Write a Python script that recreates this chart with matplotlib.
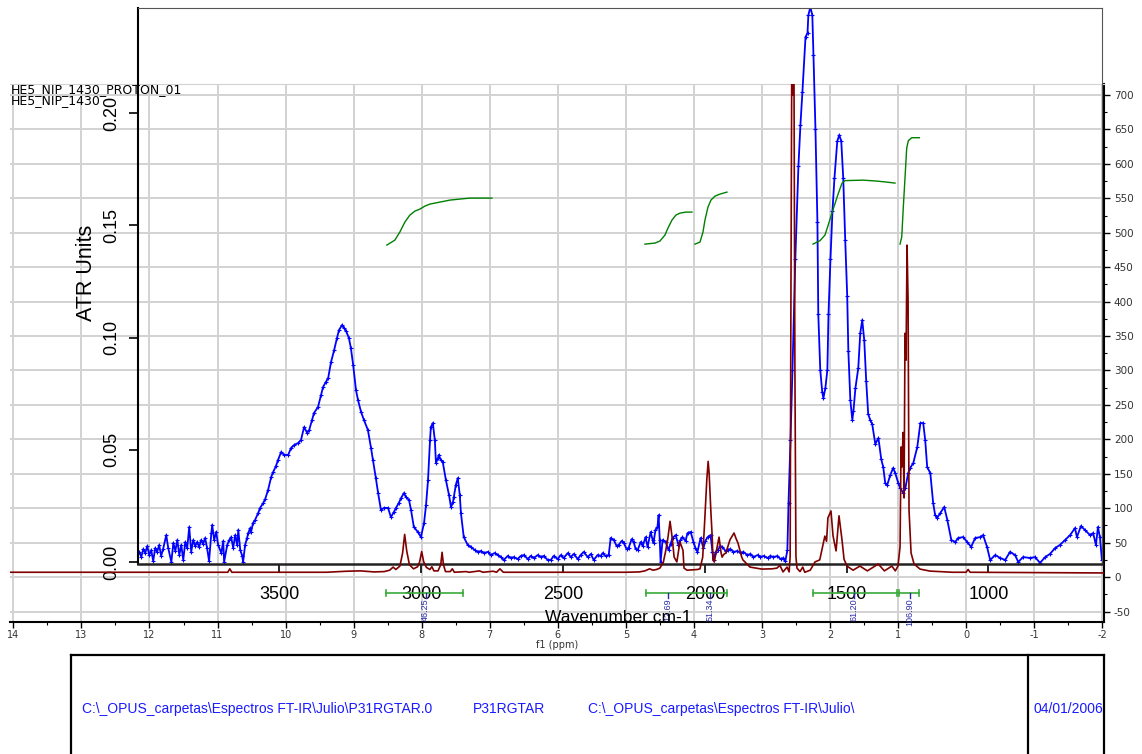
import matplotlib
matplotlib.use("Agg")
import matplotlib.pyplot as plt
from matplotlib.ticker import MultipleLocator, FormatStrFormatter, FuncFormatter
from matplotlib.lines import Line2D

plt.rcParams['axes.unicode_minus'] = False

# ---- FT-IR spectrum (ATR) ----
ir_wavenumber = [
    3994, 3987, 3980, 3973, 3966, 3959, 3952, 3945, 3938, 3931,
    3924, 3917, 3910, 3899, 3892, 3881, 3874, 3867, 3860, 3853,
    3846, 3839, 3832, 3825, 3818, 3811, 3804, 3797, 3790, 3783,
    3776, 3769, 3762, 3755, 3748, 3740, 3737, 3730, 3723, 3716,
    3705, 3698, 3695, 3684, 3677, 3670, 3663, 3656, 3649, 3645,
    3638, 3631, 3628, 3621, 3614, 3610, 3603, 3600, 3593, 3586,
    3575, 3568, 3557, 3550, 3540, 3529, 3522, 3512, 3505, 3494,
    3483, 3469, 3459, 3448, 3434, 3424, 3413, 3402, 3395, 3385,
    3378, 3364, 3353, 3346, 3336, 3328, 3318, 3307, 3297, 3290,
    3279, 3272, 3265, 3255, 3248, 3240, 3230, 3223, 3212, 3202,
    3188, 3177, 3170, 3160, 3152, 3142, 3131, 3117, 3107, 3096,
    3089, 3079, 3071, 3061, 3054, 3043, 3036, 3026, 3012, 3001,
    2990, 2983, 2976, 2969, 2966, 2959, 2952, 2948, 2941, 2938,
    2931, 2924, 2913, 2902, 2895, 2888, 2885, 2878, 2871, 2864,
    2860, 2850, 2836, 2825, 2811, 2800, 2790, 2779, 2765, 2755,
    2741, 2730, 2719, 2709, 2695, 2684, 2674, 2660, 2649, 2638,
    2624, 2614, 2603, 2589, 2579, 2568, 2554, 2543, 2533, 2519,
    2508, 2498, 2483, 2473, 2462, 2448, 2438, 2427, 2413, 2402,
    2392, 2378, 2367, 2360, 2350, 2339, 2332, 2321, 2311, 2304,
    2293, 2286, 2276, 2269, 2258, 2251, 2244, 2237, 2226, 2219,
    2209, 2202, 2191, 2184, 2181, 2174, 2167, 2163, 2159, 2156,
    2149, 2138, 2128, 2121, 2114, 2103, 2093, 2086, 2079, 2068,
    2061, 2050, 2040, 2033, 2026, 2015, 2005, 1998, 1990, 1980,
    1973, 1969, 1962, 1955, 1945, 1938, 1927, 1920, 1910, 1899,
    1885, 1874, 1864, 1850, 1839, 1829, 1814, 1804, 1793, 1779,
    1769, 1758, 1744, 1733, 1723, 1716, 1709, 1705, 1698, 1691,
    1681, 1670, 1663, 1656, 1645, 1638, 1635, 1628, 1621, 1617,
    1610, 1603, 1600, 1593, 1586, 1582, 1575, 1568, 1564, 1557,
    1550, 1543, 1533, 1526, 1519, 1512, 1505, 1498, 1494, 1487,
    1480, 1476, 1469, 1459, 1452, 1445, 1438, 1431, 1424, 1417,
    1410, 1399, 1388, 1378, 1371, 1364, 1357, 1346, 1336, 1329,
    1318, 1311, 1300, 1293, 1283, 1276, 1265, 1251, 1240, 1230,
    1223, 1216, 1205, 1195, 1188, 1181, 1170, 1156, 1145, 1131,
    1117, 1107, 1089, 1075, 1061, 1047, 1029, 1019, 1005, 994,
    976, 959, 941, 924, 906, 895, 878, 853, 836, 818,
    800, 783, 765, 748, 730, 712, 695, 688, 674, 660,
    642, 631, 621, 614, 607, 600,
]
ir_absorbance = [
    0.0045, 0.0022, 0.0058, 0.0040, 0.0071, 0.0031, 0.0053, 0.0004, 0.0062, 0.0045,
    0.0076, 0.0027, 0.0058, 0.0120, 0.0062, 0.0000, 0.0085, 0.0049, 0.0098, 0.0031,
    0.0076, 0.0009, 0.0089, 0.0062, 0.0156, 0.0045, 0.0098, 0.0071, 0.0089, 0.0067,
    0.0098, 0.0080, 0.0107, 0.0062, 0.0004, 0.0129, 0.0165, 0.0098, 0.0134, 0.0076,
    0.0040, 0.0094, 0.0000, 0.0076, 0.0098, 0.0111, 0.0062, 0.0120, 0.0076, 0.0143,
    0.0053, 0.0027, 0.0000, 0.0076, 0.0107, 0.0129, 0.0151, 0.0134, 0.0174, 0.0187,
    0.0218, 0.0241, 0.0263, 0.0281, 0.0321, 0.0379, 0.0401, 0.0428, 0.0454, 0.0490,
    0.0477, 0.0477, 0.0508, 0.0521, 0.0530, 0.0543, 0.0601, 0.0575, 0.0588, 0.0633,
    0.0664, 0.0690, 0.0744, 0.0780, 0.0802, 0.0820, 0.0891, 0.0944, 0.0998, 0.1033,
    0.1056, 0.1042, 0.1029, 0.0998, 0.0953, 0.0878, 0.0766, 0.0722, 0.0668, 0.0633,
    0.0588, 0.0508, 0.0454, 0.0374, 0.0307, 0.0232, 0.0241, 0.0241, 0.0200, 0.0223,
    0.0241, 0.0263, 0.0285, 0.0307, 0.0290, 0.0276, 0.0232, 0.0156, 0.0134, 0.0111,
    0.0174, 0.0254, 0.0365, 0.0543, 0.0601, 0.0619, 0.0543, 0.0441, 0.0463, 0.0477,
    0.0454, 0.0445, 0.0365, 0.0298, 0.0245, 0.0267, 0.0290, 0.0343, 0.0374, 0.0298,
    0.0218, 0.0111, 0.0076, 0.0067, 0.0053, 0.0045, 0.0049, 0.0040, 0.0045, 0.0031,
    0.0040, 0.0031, 0.0022, 0.0009, 0.0027, 0.0018, 0.0022, 0.0013, 0.0027, 0.0031,
    0.0013, 0.0027, 0.0018, 0.0031, 0.0022, 0.0027, 0.0009, 0.0009, 0.0027, 0.0013,
    0.0031, 0.0018, 0.0040, 0.0022, 0.0036, 0.0013, 0.0031, 0.0045, 0.0022, 0.0036,
    0.0009, 0.0031, 0.0027, 0.0040, 0.0027, 0.0031, 0.0107, 0.0098, 0.0071, 0.0076,
    0.0094, 0.0085, 0.0058, 0.0062, 0.0102, 0.0089, 0.0058, 0.0053, 0.0089, 0.0071,
    0.0111, 0.0067, 0.0134, 0.0098, 0.0085, 0.0143, 0.0156, 0.0209, 0.0098, 0.0000,
    0.0098, 0.0089, 0.0053, 0.0080, 0.0107, 0.0120, 0.0076, 0.0098, 0.0111, 0.0094,
    0.0129, 0.0134, 0.0089, 0.0062, 0.0045, 0.0107, 0.0062, 0.0094, 0.0111, 0.0120,
    0.0045, 0.0009, 0.0045, 0.0053, 0.0071, 0.0067, 0.0049, 0.0053, 0.0058, 0.0045,
    0.0049, 0.0040, 0.0045, 0.0031, 0.0036, 0.0022, 0.0031, 0.0022, 0.0027, 0.0018,
    0.0027, 0.0022, 0.0027, 0.0013, 0.0018, 0.0004, 0.0053, 0.0263, 0.0543, 0.0855,
    0.1350, 0.1764, 0.1946, 0.2093, 0.2339, 0.2356, 0.2436, 0.2472, 0.2436, 0.2258,
    0.1929, 0.1514, 0.1104, 0.0855, 0.0757, 0.0730, 0.0775, 0.0855, 0.1104, 0.1350,
    0.1564, 0.1710, 0.1875, 0.1902, 0.1875, 0.1710, 0.1434, 0.1185, 0.0940, 0.0722,
    0.0633, 0.0673, 0.0775, 0.0864, 0.1020, 0.1078, 0.0989, 0.0806, 0.0659, 0.0633,
    0.0615, 0.0526, 0.0552, 0.0458, 0.0423, 0.0352, 0.0343, 0.0388, 0.0419, 0.0397,
    0.0352, 0.0329, 0.0307, 0.0329, 0.0396, 0.0419, 0.0441, 0.0512, 0.0619, 0.0619,
    0.0543, 0.0423, 0.0396, 0.0263, 0.0209, 0.0196, 0.0218, 0.0245, 0.0187, 0.0098,
    0.0089, 0.0107, 0.0111, 0.0089, 0.0067, 0.0107, 0.0111, 0.0120, 0.0067, 0.0009,
    0.0031, 0.0018, 0.0009, 0.0045, 0.0031, 0.0000, 0.0022, 0.0018, 0.0022, -0.0004,
    0.0022, 0.0036, 0.0062, 0.0076, 0.0098, 0.0120, 0.0151, 0.0111, 0.0160, 0.0143,
    0.0120, 0.0129, 0.0076, 0.0156, 0.0111, 0.0009,
]

# ---- 1H NMR spectrum ----
nmr_ppm = [
    14.05, 12.5, 11.0, 10.85, 10.82, 10.79, 9.4, 9.1, 8.9, 8.7,
    8.55, 8.47, 8.42, 8.38, 8.32, 8.28, 8.25, 8.22, 8.18, 8.12,
    8.06, 8.03, 8.00, 7.97, 7.93, 7.88, 7.85, 7.82, 7.76, 7.72,
    7.70, 7.68, 7.65, 7.58, 7.55, 7.52, 7.35, 7.30, 7.15, 7.10,
    6.95, 6.90, 6.85, 6.80, 6.0, 5.0, 4.80, 4.72, 4.65, 4.60,
    4.55, 4.50, 4.45, 4.41, 4.38, 4.35, 4.32, 4.29, 4.25, 4.205,
    4.16, 4.145, 4.10, 3.95, 3.91, 3.87, 3.84, 3.81, 3.79, 3.775,
    3.75, 3.73, 3.72, 3.70, 3.675, 3.63, 3.60, 3.585, 3.56, 3.53,
    3.47, 3.41, 3.38, 3.35, 3.30, 3.28, 3.175, 3.0, 2.85, 2.78,
    2.735, 2.69, 2.63, 2.60, 2.585, 2.573, 2.56, 2.545, 2.53, 2.515,
    2.50, 2.485, 2.44, 2.40, 2.37, 2.29, 2.22, 2.15, 2.10, 2.075,
    2.05, 2.03, 1.985, 1.955, 1.91, 1.867, 1.823, 1.793, 1.75, 1.66,
    1.56, 1.45, 1.29, 1.20, 1.09, 1.04, 1.00, 0.97, 0.955, 0.941,
    0.926, 0.911, 0.897, 0.882, 0.867, 0.852, 0.838, 0.808, 0.764, 0.676,
    0.53, 0.2, 0.0, -0.03, -0.06, -2.02,
]
nmr_intensity = [
    7, 7, 7, 7, 12, 7, 7, 8.5, 9, 7.5,
    8, 10, 14.5, 11, 16, 35, 62, 38, 18, 12,
    15, 22, 37, 22, 14, 11, 15, 9, 9, 18,
    36, 18, 8, 8, 12, 7, 8, 7, 9, 7,
    8.5, 7, 12, 7, 7, 7, 7.5, 9, 12, 10,
    11, 13, 21, 40, 58, 81, 58, 29, 22, 51,
    39, 13, 10, 11, 12, 29, 83, 141, 168, 150,
    95, 58, 25, 22, 35, 58, 35, 29, 33, 35,
    54, 64, 56, 49, 30, 25, 14.5, 11.6, 12, 13,
    17, 7.5, 14.5, 7.5, 30, 420, 780, 700, 780, 300,
    30, 13, 8, 14.5, 7, 10, 22, 25, 48, 59.5,
    52, 86, 96, 60, 38, 89, 54, 26, 16, 10,
    16, 9, 19, 9, 16, 9, 16, 44, 189, 160,
    210, 115, 354, 315, 482, 402, 97, 35, 19, 11.6,
    8.7, 7, 7, 11, 7, 6,
]

# ---- integral curves ----
int1_ppm = [8.512, 8.394, 8.321, 8.247, 8.174, 8.100, 8.027, 7.953, 7.880, 7.733, 7.586, 7.439, 7.292, 7.145, 6.968]
int1_val = [482.1, 489.3, 501.0, 515.5, 525.6, 531.4, 534.3, 538.7, 541.6, 544.5, 547.4, 548.9, 550.3, 550.3, 550.3]
int2_ppm = [4.719, 4.572, 4.499, 4.425, 4.381, 4.322, 4.264, 4.205, 4.117, 4.028]
int2_val = [483.5, 485.0, 487.9, 496.6, 506.7, 518.4, 525.6, 528.5, 530.0, 530.0]
int3_ppm = [3.984, 3.910, 3.866, 3.837, 3.793, 3.749, 3.690, 3.617, 3.514]
int3_val = [483.5, 486.4, 501.0, 518.4, 537.2, 547.4, 553.2, 556.1, 559.0]
int4_ppm = [2.249, 2.146, 2.073, 2.029, 1.970, 1.926, 1.882, 1.823, 1.779, 1.514, 1.308, 1.161, 1.044]
int4_val = [483.5, 488.6, 496.6, 510.1, 529.0, 542.3, 555.8, 571.9, 575.7, 576.4, 575.0, 573.5, 572.1]
int5_ppm = [0.970, 0.945, 0.922, 0.897, 0.872, 0.848, 0.798, 0.687]
int5_val = [483.5, 494.0, 537.0, 579.9, 622.9, 633.7, 638.0, 638.0]

integral_from = [8.52, 4.71, 2.25, 0.986]
integral_to = [7.39, 3.52, 1.02, 0.687]
integral_label_ppm = [7.94, 4.38, 3.76, 1.65, 0.82]
integral_labels = ['46.25', '12.69', '51.34', '61.20', '106.90']

W, H = 1142, 754
fig = plt.figure(figsize=(W / 100, H / 100), dpi=100)


def rect(x0, y0, x1, y1):
    # pixel box (top-left origin) -> figure fraction
    return [x0 / W, 1 - y1 / H, (x1 - x0) / W, (y1 - y0) / H]


nmr_xlim = (14.05, -2.02)
nmr_ylim = (-64.5, 716)

# NMR frame, grid and ticks
ax_n = fig.add_axes(rect(10, 84, 1103.5, 621.5), zorder=0)
ax_n.set_xlim(*nmr_xlim)
ax_n.set_ylim(*nmr_ylim)
ax_n.xaxis.set_major_locator(MultipleLocator(1))
ax_n.xaxis.set_minor_locator(MultipleLocator(0.5))
ax_n.xaxis.set_major_formatter(FuncFormatter(lambda v, p: '%d' % round(v)))
ax_n.yaxis.tick_right()
ax_n.yaxis.set_minor_locator(MultipleLocator(25))
ax_n.set_yticks(range(-50, 701, 50))
ax_n.grid(True, which='major', color='#d2d2d2', lw=1.4)
ax_n.set_axisbelow(True)
ax_n.tick_params(axis='x', which='major', direction='out', length=4, width=1,
                 labelsize=7, pad=2, labelcolor='#333333')
ax_n.tick_params(axis='x', which='minor', direction='out', length=2.5, width=0.8)
ax_n.tick_params(axis='y', which='major', direction='out', length=4.5, width=1,
                 labelsize=7.5, pad=3, labelcolor='#333333', right=True, left=False)
ax_n.tick_params(axis='y', which='minor', direction='out', length=2.5, width=0.8,
                 right=True, left=False)
ax_n.spines['left'].set_visible(False)
ax_n.spines['top'].set_color('#d2d2d2')
ax_n.spines['bottom'].set_linewidth(1.5)
ax_n.spines['right'].set_linewidth(1.5)

# IR axes on top
ax_ir = fig.add_axes(rect(137.6, 8, 1101.9, 564), zorder=1)
ax_ir.set_facecolor('none')
ax_ir.plot(ir_wavenumber, ir_absorbance, color='#0000ff', lw=1.3,
           marker='+', ms=3, mew=0.8)
ax_ir.set_xlim(4000, 600)
ax_ir.set_ylim(-0.00089, 0.2468)
ax_ir.set_xticks([3500, 3000, 2500, 2000, 1500, 1000])
ax_ir.set_yticks([0.0, 0.05, 0.10, 0.15, 0.20])
ax_ir.yaxis.set_major_formatter(FormatStrFormatter('%.2f'))
ax_ir.tick_params(axis='both', direction='out', length=6.5, width=1.2,
                  labelsize=13, pad=6)
ax_ir.tick_params(axis='x', pad=9)
ax_ir.tick_params(axis='y', labelrotation=90)
for lbl in ax_ir.get_xticklabels() + ax_ir.get_yticklabels():
    lbl.set_family('Liberation Sans')
plt.setp(ax_ir.get_yticklabels(), va='center')
ax_ir.spines['left'].set_linewidth(1.5)
ax_ir.spines['bottom'].set_linewidth(1.8)
ax_ir.spines['bottom'].set_color('#222222')
ax_ir.spines['top'].set_color('#555555')
ax_ir.spines['right'].set_color('#555555')

fig.text(87 / W, 1 - 273 / H, 'ATR Units', rotation=90, ha='center', va='center',
         fontsize=15.5, family='Liberation Sans')
fig.text(618 / W, 1 - 622 / H, 'Wavenumber cm-1', ha='center', va='baseline',
         fontsize=12.5, family='Liberation Sans')

# NMR traces on the very top
ax_r = fig.add_axes(rect(10, 84, 1103.5, 621.5), zorder=2)
ax_r.set_axis_off()
ax_r.set_xlim(*nmr_xlim)
ax_r.set_ylim(*nmr_ylim)
ax_r.plot(nmr_ppm, nmr_intensity, color='#800000', lw=1.2)
for xs, ys in [(int1_ppm, int1_val), (int2_ppm, int2_val), (int3_ppm, int3_val),
               (int4_ppm, int4_val), (int5_ppm, int5_val)]:
    ax_r.plot(xs, ys, color='#008000', lw=1.0)

bar_v = -22.8
for a, b in zip(integral_from, integral_to):
    ax_r.plot([a, b], [bar_v, bar_v], color='#3aaa3a', lw=1.2)
    ax_r.plot([a, a], [bar_v - 4.5, bar_v + 4.5], color='#3aaa3a', lw=1.2)
    ax_r.plot([b, b], [bar_v - 4.5, bar_v + 4.5], color='#3aaa3a', lw=1.2)
for p, t in zip(integral_label_ppm, integral_labels):
    ax_r.plot([p, p], [bar_v, bar_v - 7.5], color='#2a2aa8', lw=1.0)
    ax_r.text(p, bar_v - 8, t, rotation=90, ha='center', va='top', fontsize=6.5,
              color='#2a2aa8', family='Liberation Sans')

# header and footer texts
fig.text(11 / W, 1 - 93 / H, 'HE5_NIP_1430_PROTON_01', fontsize=9, va='baseline')
fig.text(11 / W, 1 - 104 / H, 'HE5_NIP_1430', fontsize=9, va='baseline')
fig.text(557 / W, 1 - 648 / H, 'f1 (ppm)', fontsize=7, ha='center', va='baseline',
         color='#333333')

# info box at the bottom
for xs, ys in [([71, 1104], [655, 655]), ([71, 71], [655, 754]),
               ([1028, 1028], [655, 754]), ([1104, 1104], [655, 754])]:
    fig.add_artist(Line2D([x / W for x in xs], [1 - y / H for y in ys],
                          color='black', lw=1.6))
foot_font = dict(fontsize=10, color='#1a1aff', va='baseline', family='Liberation Sans')
fig.text(82 / W, 1 - 713 / H, 'C:\\_OPUS_carpetas\\Espectros FT-IR\\Julio\\P31RGTAR.0', **foot_font)
fig.text(473 / W, 1 - 713 / H, 'P31RGTAR', **foot_font)
fig.text(588 / W, 1 - 713 / H, 'C:\\_OPUS_carpetas\\Espectros FT-IR\\Julio\\', **foot_font)
fig.text(1033 / W, 1 - 713 / H, '04/01/2006', **foot_font)

fig.savefig('out.png', dpi=100)
